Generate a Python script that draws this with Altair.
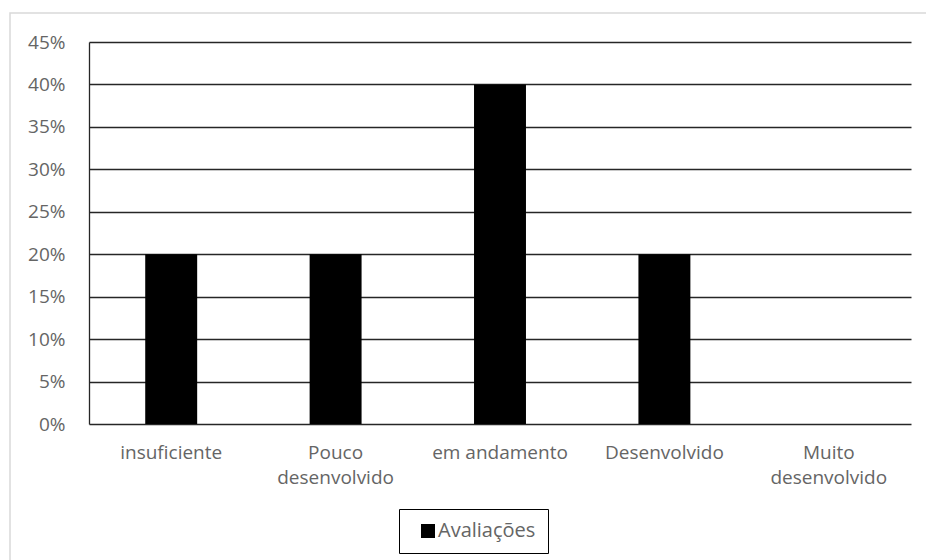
import altair as alt
import pandas as pd

categories = ["insuficiente", "Pouco desenvolvido", "em andamento", "Desenvolvido", "Muito desenvolvido"]
values = [0.20, 0.20, 0.40, 0.20, 0.0]
series = ["Avaliações"] * len(categories)
y_ticks = [0, 0.05, 0.10, 0.15, 0.20, 0.25, 0.30, 0.35, 0.40, 0.45]

df = pd.DataFrame({"cat": categories, "val": values, "serie": series})

FONT = "Open Sans"
GRAY = "#656565"

bars = alt.Chart(df).mark_bar(color="black").encode(
    x=alt.X("cat:N", sort=categories, title=None,
            scale=alt.Scale(paddingInner=0.684, paddingOuter=0.342),
            axis=alt.Axis(labelAngle=0, labelFont=FONT, labelFontSize=19, labelColor=GRAY,
                          labelPadding=19, ticks=False, domain=False, grid=False,
                          labelLineHeight=25, labelBaseline="top", labelLimit=200,
                          labelExpr="indexof(datum.value, ' desenvolvido') > 0 ? split(datum.value, ' ') : datum.value")),
    y=alt.Y("val:Q", title=None,
            scale=alt.Scale(domain=[0, 0.45], nice=False),
            axis=alt.Axis(values=y_ticks, format=".0%", labelFont=FONT, labelFontSize=19,
                          labelColor=GRAY, labelPadding=24, ticks=False,
                          domain=True, domainColor="#262626", domainWidth=1.3,
                          grid=True, gridColor="#262626", gridWidth=1.3, gridOpacity=1)),
    color=alt.Color("serie:N", scale=alt.Scale(range=["black"]),
                    legend=alt.Legend(title=None, orient="none", legendX=310, legendY=467,
                                      strokeColor="black", padding=12, symbolType="square",
                                      symbolSize=196, symbolStrokeWidth=0, symbolOffset=7,
                                      labelFont=FONT, labelFontSize=20, labelColor=GRAY,
                                      labelOffset=0)),
)

border = alt.Chart(pd.DataFrame({"a": [0]})).mark_rect(
    fill=None, stroke="#d9d9d9", strokeWidth=1.5
).encode(x=alt.value(-79), x2=alt.value(900), y=alt.value(-29), y2=alt.value(560))

chart = alt.layer(border, bars).properties(
    width=822, height=382,
    autosize=alt.AutoSizeParams(type="none"),
    padding={"left": 89, "top": 42, "right": 15, "bottom": 136},
    background="white",
).configure_view(stroke=None)

chart.save("out.html", embed_options={"renderer": "svg", "actions": False})
